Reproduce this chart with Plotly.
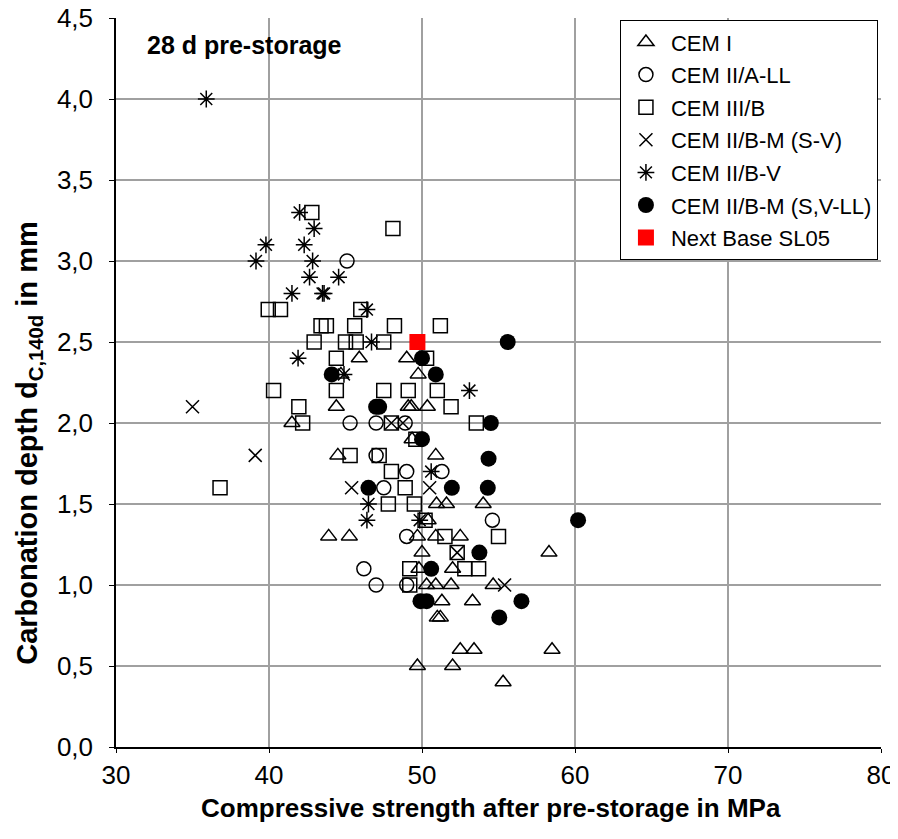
import plotly.graph_objects as go

# CEM I
cem1_x = [41.5, 44.4, 44.5, 43.9, 45.25, 45.9, 44.7, 49.0, 49.75, 49.1, 49.3, 50.35, 49.35, 50.9,
          50.95, 51.6, 54.0, 50.4, 49.7, 50.9, 52.5, 50.0, 58.3, 49.8, 52.0, 50.3, 50.9, 51.9,
          54.65, 51.3, 53.3, 51.0, 51.2, 52.5, 53.4, 58.5, 49.7, 52.0, 55.3]
cem1_y = [2.0, 2.1, 1.8, 1.3, 1.3, 2.4, 2.3, 2.4, 2.3, 2.1, 2.1, 2.1, 1.9, 1.8,
          1.5, 1.5, 1.5, 1.4, 1.3, 1.3, 1.3, 1.2, 1.2, 1.1, 1.1, 1.0, 1.0, 1.0,
          1.0, 0.9, 0.9, 0.8, 0.8, 0.6, 0.6, 0.6, 0.5, 0.5, 0.4]

# CEM II/A-LL
cem2all_x = [45.1, 45.3, 47.0, 48.9, 47.0, 49.0, 51.3, 47.5, 54.6, 49.0, 46.2, 47.0, 49.0]
cem2all_y = [3.0, 2.0, 2.0, 2.0, 1.8, 1.7, 1.7, 1.6, 1.4, 1.3, 1.1, 1.0, 1.0]

# CEM III/B
cem3b_x = [42.8, 48.1, 39.95, 40.75, 46.0, 43.4, 43.75, 45.6, 48.2, 51.2, 42.95, 45.0, 45.7, 47.5,
           44.4, 50.3, 40.3, 44.4, 47.5, 49.1, 51.0, 41.95, 51.9, 42.2, 48.0, 53.55, 49.6, 45.3,
           47.2, 48.0, 36.8, 48.9, 47.8, 49.5, 50.2, 51.5, 55.0, 52.3, 49.2, 52.8, 53.7, 49.2]
cem3b_y = [3.3, 3.2, 2.7, 2.7, 2.7, 2.6, 2.6, 2.6, 2.6, 2.6, 2.5, 2.5, 2.5, 2.5,
           2.4, 2.4, 2.2, 2.2, 2.2, 2.2, 2.2, 2.1, 2.1, 2.0, 2.0, 2.0, 1.9, 1.8,
           1.8, 1.7, 1.6, 1.6, 1.5, 1.5, 1.4, 1.3, 1.3, 1.2, 1.1, 1.1, 1.1, 1.0]

# CEM II/B-M (S-V)
cem2bmsv_x = [35.0, 39.1, 45.4, 50.5, 48.0, 48.75, 52.3, 55.4]
cem2bmsv_y = [2.1, 1.8, 1.6, 1.6, 2.0, 2.0, 1.2, 1.0]

# CEM II/B-V
cem2bv_x = [35.9, 42.0, 42.95, 39.8, 42.3, 39.15, 42.85, 42.65, 44.55, 41.5, 43.5, 43.6, 46.4,
            46.7, 41.9, 44.9, 53.1, 50.6, 46.5, 46.4, 49.85]
cem2bv_y = [4.0, 3.3, 3.2, 3.1, 3.1, 3.0, 3.0, 2.9, 2.9, 2.8, 2.8, 2.8, 2.7,
            2.5, 2.4, 2.3, 2.2, 1.7, 1.5, 1.4, 1.4]

# CEM II/B-M (S,V-LL)
cem2bmsvll_x = [55.6, 50.0, 44.1, 50.9, 47.0, 47.2, 54.5, 50.0, 54.35, 46.5, 51.95, 54.3, 60.2,
                53.75, 50.6, 49.9, 50.3, 56.5, 55.05]
cem2bmsvll_y = [2.5, 2.4, 2.3, 2.3, 2.1, 2.1, 2.0, 1.9, 1.78, 1.6, 1.6, 1.6, 1.4,
                1.2, 1.1, 0.9, 0.9, 0.9, 0.8]

# Next Base SL05
nb_x = [49.7]
nb_y = [2.5]

series = [
    ("CEM I", cem1_x, cem1_y, "triangle-up-open", 14, "black"),
    ("CEM II/A-LL", cem2all_x, cem2all_y, "circle-open", 14, "black"),
    ("CEM III/B", cem3b_x, cem3b_y, "square-open", 14, "black"),
    ("CEM II/B-M (S-V)", cem2bmsv_x, cem2bmsv_y, "x-thin-open", 13, "black"),
    ("CEM II/B-V", cem2bv_x, cem2bv_y, "asterisk-open", 14, "black"),
    ("CEM II/B-M (S,V-LL)", cem2bmsvll_x, cem2bmsvll_y, "circle", 16, "black"),
    ("Next Base SL05", nb_x, nb_y, "square", 16, "red"),
]

fig = go.Figure()
for i, (name, xs, ys, sym, size, col) in enumerate(series):
    fig.add_trace(go.Scatter(
        x=xs, y=ys, mode="markers", name=name, legendgroup=str(i),
        marker=dict(symbol=sym, size=size, color=col,
                    line=dict(color=col, width=1.5 if "open" in sym else 0)),
    ))

font = "Arial, Liberation Sans, sans-serif"
# page body has an 8px margin, so the plot box is shifted by that amount
fig.update_layout(
    width=898, height=839,
    margin=dict(l=108, r=25, t=10, b=100),
    paper_bgcolor="white", plot_bgcolor="white",
    separators=",.",
    font=dict(family=font, size=26, color="black"),
    showlegend=True,
    legend=dict(x=0.996, y=0.997, xanchor="right", yanchor="top",
                bgcolor="white", bordercolor="black", borderwidth=1,
                font=dict(size=22), tracegroupgap=1, itemwidth=40),
    annotations=[
        dict(text="<b>28 d pre-storage</b>", x=0.038, y=0.985,
             xref="paper", yref="paper", xanchor="left", yanchor="top",
             showarrow=False, font=dict(size=25)),
        dict(text="<b>Carbonation depth d<sub>C,140d</sub> in mm</b>",
             x=-0.114, y=0.417, xref="paper", yref="paper",
             xanchor="center", yanchor="middle", textangle=-90,
             showarrow=False, font=dict(size=29)),
        dict(text="<b>Compressive strength after pre-storage in MPa</b>",
             x=0.49, y=-0.084, xref="paper", yref="paper",
             xanchor="center", yanchor="middle",
             showarrow=False, font=dict(size=26)),
    ],
)
fig.update_xaxes(range=[30, 80], dtick=10, tickformat="d", automargin=False,
                 showgrid=True, gridcolor="#a0a0a0", gridwidth=2,
                 showline=True, linecolor="black", linewidth=1.5,
                 ticks="outside", ticklen=4, tickcolor="black",
                 ticklabeloverflow="allow", zeroline=False)
fig.update_yaxes(range=[0, 4.5], dtick=0.5, tickformat=".1f", automargin=False,
                 showgrid=True, gridcolor="#a0a0a0", gridwidth=2,
                 showline=True, linecolor="black", linewidth=1.5,
                 ticks="outside", ticklen=5, tickcolor="black",
                 ticklabeloverflow="allow", ticklabelstandoff=11,
                 zeroline=False)

fig.write_html("out.html")
